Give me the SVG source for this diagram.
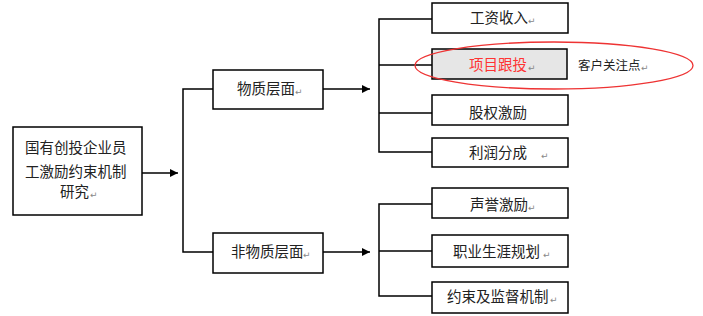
<svg xmlns="http://www.w3.org/2000/svg" width="703" height="316" viewBox="0 0 703 316">
<defs>
<style>
.box{fill:#fff;stroke:#000;stroke-width:1.5}
.hl{fill:#e6e6e6;stroke:#000;stroke-width:1.5}
.ln{fill:none;stroke:#000;stroke-width:1.5}
.t{font-family:"Noto Sans CJK SC","Noto Sans",sans-serif;font-size:14.5px;fill:#222}
.s{font-family:"Noto Sans CJK SC","Noto Sans",sans-serif;font-size:12.5px;fill:#222}
.pm{font-family:"DejaVu Sans",sans-serif;font-size:9px;fill:#888}
</style>
<marker id="ah" viewBox="0 0 10 10" refX="10" refY="5" markerWidth="8" markerHeight="8" markerUnits="userSpaceOnUse" orient="auto">
<path d="M0,0 L10,5 L0,10 z" fill="#000"/>
</marker>
</defs>
<rect width="703" height="316" fill="#fff"/>
<g id="connectors">
<line class="ln" x1="142" y1="173" x2="178" y2="173" marker-end="url(#ah)"/>
<polyline class="ln" points="213,89 183,89 183,252 213,252"/>
<line class="ln" x1="323" y1="89" x2="370" y2="89" marker-end="url(#ah)"/>
<line class="ln" x1="323" y1="252" x2="370" y2="252" marker-end="url(#ah)"/>
<polyline class="ln" points="432,19 379,19 379,152 432,152"/>
<line class="ln" x1="379" y1="65" x2="432" y2="65"/>
<line class="ln" x1="379" y1="113" x2="432" y2="113"/>
<polyline class="ln" points="432,204 379,204 379,296 432,296"/>
<line class="ln" x1="379" y1="251" x2="432" y2="251"/>
</g>
<g id="n-root">
<rect class="box" x="13" y="127" width="129" height="88"/>
<text class="t" x="25" y="153">国有创投企业员</text>
<text class="t" x="25" y="177">工激励约束机制</text>
<text class="t" x="60" y="197">研究</text>
<text class="pm" x="90" y="198">↵</text>
</g>
<g id="n-material">
<rect class="box" x="213" y="70" width="110" height="39"/>
<text class="t" x="237" y="94">物质层面</text>
<text class="pm" x="295" y="95">↵</text>
</g>
<g id="n-nonmaterial">
<rect class="box" x="213" y="233" width="110" height="40"/>
<text class="t" x="231" y="257">非物质层面</text>
<text class="pm" x="303" y="258">↵</text>
</g>
<g id="n-salary">
<rect class="box" x="432" y="3" width="136" height="30"/>
<text class="t" x="470" y="23">工资收入</text>
<text class="pm" x="528" y="24">↵</text>
</g>
<g id="n-project">
<rect class="hl" x="432" y="49" width="135" height="30"/>
<text class="t" x="469" y="70" fill="#ff3333" style="fill:#ff3333">项目跟投</text>
<text class="pm" x="528" y="71">↵</text>
</g>
<g id="n-equity">
<rect class="box" x="432" y="95" width="136" height="30"/>
<text class="t" x="469" y="118">股权激励</text>
</g>
<g id="n-profit">
<rect class="box" x="432" y="138" width="136" height="29"/>
<text class="t" x="469" y="158">利润分成</text>
<text class="pm" x="541" y="159">↵</text>
</g>
<g id="n-reputation">
<rect class="box" x="432" y="188" width="136" height="30"/>
<text class="t" x="470" y="210">声誉激励</text>
<text class="pm" x="528" y="211">↵</text>
</g>
<g id="n-career">
<rect class="box" x="432" y="235" width="136" height="32"/>
<text class="t" x="453" y="257">职业生涯规划</text>
<text class="pm" x="543" y="258">↵</text>
</g>
<g id="n-constraint">
<rect class="box" x="432" y="282" width="136" height="31"/>
<text class="t" x="447" y="302">约束及监督机制</text>
<text class="pm" x="550" y="303">↵</text>
</g>
<g id="n-note">
<ellipse cx="554" cy="65.5" rx="139" ry="23.5" fill="none" stroke="#ee3333" stroke-width="1.3"/>
<text class="s" x="578" y="70">客户关注点</text>
<text class="pm" x="641" y="71">↵</text>
</g>
</svg>
